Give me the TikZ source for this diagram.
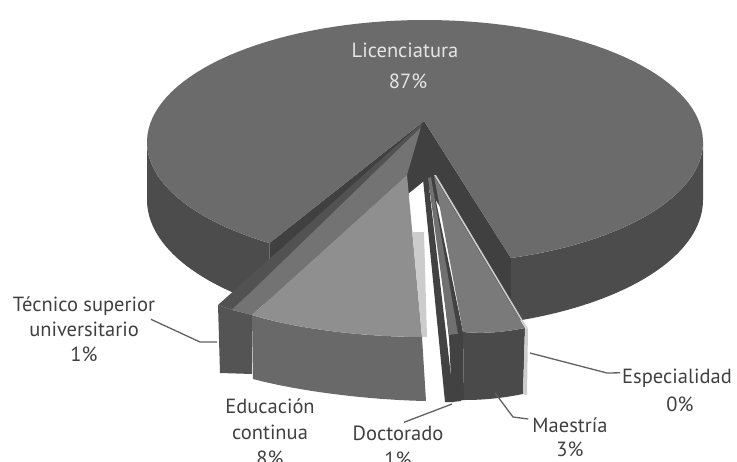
\documentclass[tikz,border=0pt]{standalone}
\usepackage{fontspec}
\setmainfont{PT Sans}
\usetikzlibrary{positioning}

\definecolor{licTop}{gray}{0.42}
\definecolor{licWall}{gray}{0.30}
\definecolor{licCut}{gray}{0.25}
\definecolor{tecTop}{gray}{0.32}
\definecolor{tecCut}{gray}{0.45}
\definecolor{tecFront}{gray}{0.33}
\definecolor{eduTop}{gray}{0.56}
\definecolor{eduWall}{gray}{0.41}
\definecolor{eduCut}{gray}{0.80}
\definecolor{docSide}{gray}{0.26}
\definecolor{docTop}{gray}{0.44}
\definecolor{maeTop}{gray}{0.48}
\definecolor{maeWall}{gray}{0.29}
\definecolor{espFill}{gray}{0.80}
\definecolor{lblText}{gray}{0.25}
\definecolor{licText}{gray}{0.90}
\definecolor{leadGray}{gray}{0.38}

\begin{document}
\begin{tikzpicture}[x=1pt, y=-1pt,
    lbl/.style={anchor=base, inner sep=0pt, text=lblText, font=\fontsize{20.5}{24}\selectfont},
    leader/.style={draw=leadGray, line width=1.3pt}]
    \useasboundingbox (0,0) rectangle (737,461);
    \clip (0,0) rectangle (737,461);

    % Licenciatura: side walls and cut faces
    \fill[licWall] plot[domain=72:0, samples=40] ({425+278*cos(\x)},{142+122*sin(\x)})
        -- plot[domain=0:72, samples=40] ({425+278*cos(\x)},{200+128*sin(\x)}) -- cycle;
    \fill[licWall] plot[domain=124:180, samples=30] ({425+278*cos(\x)},{142+122*sin(\x)})
        -- plot[domain=180:124, samples=30] ({425+278*cos(\x)},{200+128*sin(\x)}) -- cycle;
    \fill[licCut] (424,121) -- (269.5,243) -- (269.5,306) -- (424,181) -- cycle;
    \fill[licCut] (424,121) -- (510.9,258) -- (510.9,321.7) -- (424,181) -- cycle;

    % Licenciatura: top
    \fill[licTop] (424,121) -- plot[domain=72:-236, samples=120] ({425+278*cos(\x)},{142+122*sin(\x)}) -- cycle;

    % Tecnico superior universitario (thin slice on the left)
    \fill[tecCut] (421,127) -- (232,310) -- (252,315) -- (407,175) -- cycle;
    \fill[tecFront] (218,305) -- (232,310) -- (252,315) -- (252,374) -- (220,373) -- cycle;
    \fill[tecTop] (423,122) -- (218,305) -- (232,310) -- (421,127) -- cycle;

    % Educacion continua
    \fill[eduWall] (252,315) .. controls (300,330) and (370,337) .. (422,337) -- (426,401)
        .. controls (372,400) and (302,392) .. (253,379) -- cycle;
    \fill[eduTop] (407,175) -- (252,315) .. controls (300,330) and (370,337) .. (422,337) -- cycle;
    \fill[eduCut] (412.3,232) -- (424,232) -- (427,337) -- (422,337) -- cycle;

    % Maestria: left cut face
    \fill[docSide] (431,177) -- (463,332) -- (464,400) -- (456,401) -- cycle;

    % Doctorado
    \fill[docSide] (423,179) -- (445,402) -- (454,402) -- (428,178) -- cycle;
    \fill[docTop] (428,178) -- (449,335) -- (458,334) -- (431,177) -- cycle;
    \fill[docSide] (449,335) -- (458,334) -- (461,401) -- (452,402) -- cycle;

    % Maestria
    \fill[maeWall] (463,332) .. controls (485,334) and (505,332) .. (525,328) -- (523,394)
        .. controls (503,398) and (485,400) .. (464,400) -- cycle;
    \fill[maeTop] (434,176) -- (463,332) .. controls (485,334) and (505,332) .. (525,328) -- cycle;

    % Especialidad (0%)
    \fill[espFill] (434,175) -- (525,327) -- (528,329) -- (436,175) -- cycle;
    \fill[espFill] (525,328) -- (528,329) -- (527,395) -- (523,394) -- cycle;

    % Labels
    \node[lbl, text=licText] (licA) at (405,57) {Licenciatura};
    \node[lbl, text=licText] (licB) at (408,88) {87\%};

    \node[lbl] (tecA) at (84,311) {Técnico superior};
    \node[lbl] (tecB) at (84,336) {universitario};
    \node[lbl] (tecC) at (84,361) {1\%};

    \node[lbl] (eduA) at (270,413) {Educación};
    \node[lbl] (eduB) at (270,439) {continua};
    \node[lbl] (eduC) at (270,465) {8\%};

    \node[lbl] (docA) at (398,440) {Doctorado};
    \node[lbl] (docB) at (398,466) {1\%};

    \node[lbl] (maeA) at (570,432) {Maestría};
    \node[lbl] (maeB) at (570,456) {3\%};

    \node[lbl] (espA) at (677,383) {Especialidad};
    \node[lbl] (espB) at (680,411) {0\%};

    % Leader lines
    \coordinate (tecPt) at (217,342);
    \coordinate (docPt) at (452,404);
    \coordinate (maePt) at (495,393);
    \coordinate (espPt) at (530,353);

    \draw[leader] (tecPt) -- (200,342) -- ([xshift=12pt,yshift=2pt]tecB.north east);
    \draw[leader] (docPt) -- ([xshift=6pt,yshift=3pt]docA.north);
    \draw[leader] (maePt) -- (513,417) -- ([xshift=-4pt,yshift=-2pt]maeA.north west);
    \draw[leader] (espPt) -- (607,373) -- ([xshift=-2pt,yshift=5pt]espA.west);
\end{tikzpicture}
\end{document}
